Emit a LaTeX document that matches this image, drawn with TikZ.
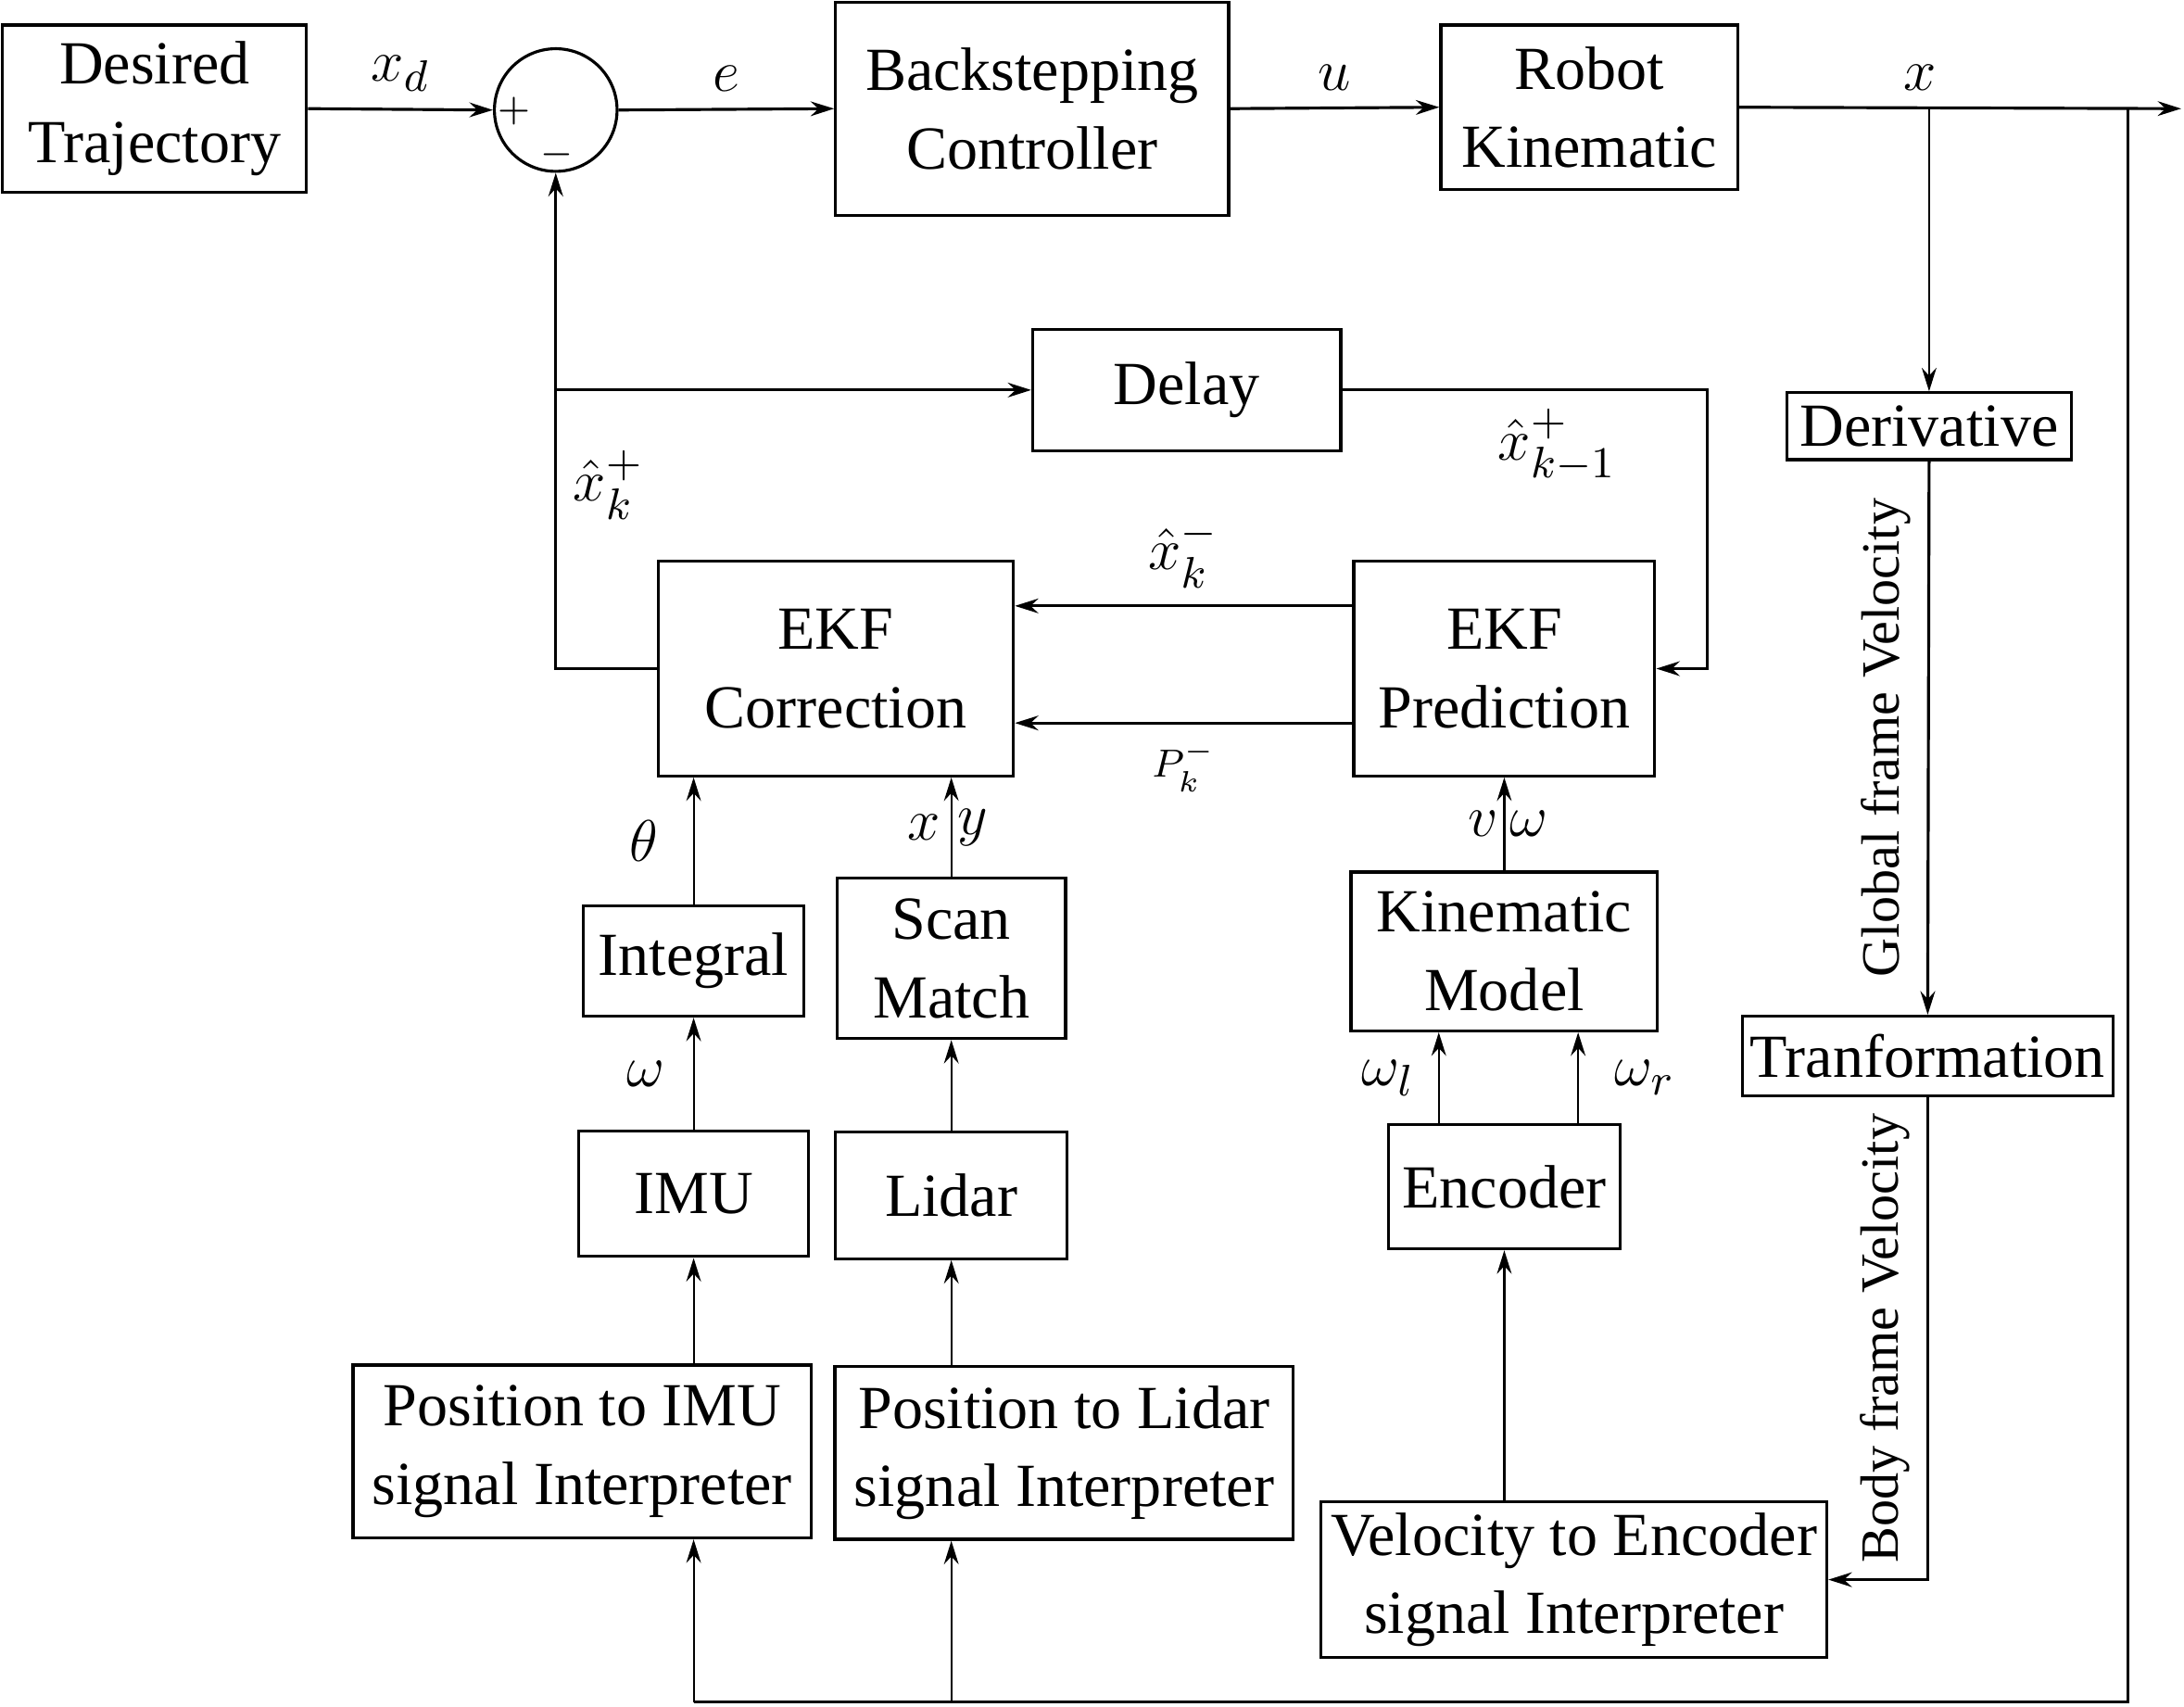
\documentclass[tikz,border=0pt]{standalone}
\usepackage[no-math]{fontspec}
\setmainfont{Liberation Serif}
\usetikzlibrary{shapes.geometric, arrows.meta}
\tikzstyle{block} = [rectangle, draw=black, semithick, inner sep=0pt, align=center]
\tikzstyle{arrow} = [semithick, -{Stealth[length=4.8pt, width=3pt, inset=1.6pt]}]
\tikzstyle{sarrow} = [thin, -{Stealth[length=4.8pt, width=3pt, inset=1.6pt]}]
\tikzstyle{vlabel} = [font=\fontsize{11}{13}\selectfont, rotate=90]
\usetikzlibrary{positioning}

\begin{document}
\begin{tikzpicture}[x=0.01cm, y=-0.01cm, font=\fontsize{12.5}{16}\selectfont]
	\useasboundingbox (0,0) rectangle (1568,1225);

	% forward path
	\node (des) [block, minimum width=2.18cm, minimum height=1.2cm] at (111,78) {Desired\\Trajectory};
	\node (sum) [circle, draw, semithick, minimum size=0.88cm, inner sep=0pt] at (399,79) {};
	\node (plus) [font=\footnotesize] at (369,80) {$+$};
	\node (minus) [font=\footnotesize] at (400,111) {$-$};
	\node (bsc) [block, minimum width=2.82cm, minimum height=1.53cm] at (741,78) {Backstepping\\Controller};
	\node (rob) [block, minimum width=2.13cm, minimum height=1.18cm] at (1141,77) {Robot\\Kinematic};
	\coordinate (xend) at (1566,78);
	\coordinate (xb1) at (1385,78);
	\coordinate (xb2) at (1528,78);
	\coordinate (fbr) at (1528,1222);

	% estimator
	\node (delay) [block, minimum width=2.21cm, minimum height=0.87cm] at (852,280) {Delay};
	\coordinate (dr) at (1226,280);
	\node (corr) [block, minimum width=2.55cm, minimum height=1.54cm] at (600,480) {EKF\\Correction};
	\node (pred) [block, minimum width=2.16cm, minimum height=1.54cm] at (1080,480) {EKF\\Prediction};
	\node (xkp) at (437,348) {$\hat{x}_k^{+}$};
	\node (xkm1) at (1118,320) {$\hat{x}_{k-1}^{+}$};

	% sensors
	\node (int) [block, minimum width=1.58cm, minimum height=0.79cm] at (498,690) {Integral};
	\node (scan) [block, minimum width=1.64cm, minimum height=1.15cm] at (683,688) {Scan\\Match};
	\node (kin) [block, minimum width=2.2cm, minimum height=1.14cm] at (1080,683) {Kinematic\\Model};
	\node (imu) [block, minimum width=1.65cm, minimum height=0.9cm] at (498,857) {IMU};
	\node (lidar) [block, minimum width=1.66cm, minimum height=0.91cm] at (683,858) {Lidar};
	\node (enc) [block, minimum width=1.66cm, minimum height=0.89cm] at (1080,852) {Encoder};
	\node (pimu) [block, minimum width=3.29cm, minimum height=1.24cm] at (418,1042) {Position to IMU\\signal Interpreter};
	\node (plidar) [block, minimum width=3.29cm, minimum height=1.24cm] at (764,1043) {Position to Lidar\\signal Interpreter};
	\node (venc) [block, minimum width=3.63cm, minimum height=1.12cm] at (1130,1134) {Velocity to Encoder\\signal Interpreter};
	\node (deriv) [block, minimum width=2.04cm, minimum height=0.48cm] at (1385,306) {Derivative};
	\node (trans) [block, minimum width=2.66cm, minimum height=0.57cm] at (1384,758) {Tranformation};

	\draw [arrow] (des.east) -- node[above] {$x_d$} (sum.west);
	\draw [arrow] (sum.east) -- node[above] {$e$} (bsc.west);
	\draw [arrow] (bsc.east) -- node[above] {$u$} (rob.west);
	\draw [arrow] (rob.east) -- node[pos=0.41, above] {$x$} (xend);
	\draw [sarrow] (xb1) -- (deriv.north);
	\draw [arrow] (deriv.south) -- node[midway, above, vlabel] {Global frame Velocity} (trans.north);
	\draw [arrow] (trans.south) |- node[pos=0.25, above, vlabel] {Body frame Velocity} (venc.east);
	\draw [semithick] (xb2) -- (fbr) -- (imu |- fbr);
	\draw [sarrow] (imu |- fbr) -- (imu |- pimu.south);
	\draw [sarrow] (lidar |- fbr) -- (lidar |- plidar.south);

	\draw [arrow] (corr.west) -| (sum.south);
	\draw [arrow] (sum.south |- delay.west) -- (delay.west);
	\draw [arrow] (delay.east) -- (dr) |- (pred.east);
	\draw [arrow] ([yshift=0.45cm]pred.west) -- node[above] {$\hat{x}_k^{-}$} ([yshift=0.45cm]corr.east);
	\draw [arrow] ([yshift=-0.39cm]pred.west) -- node[below, font=\footnotesize] {$P_k^{-}$} ([yshift=-0.39cm]corr.east);

	\draw [sarrow] (imu |- pimu.north) -- (imu.south);
	\draw [sarrow] (lidar |- plidar.north) -- (lidar.south);
	\draw [sarrow] (imu.north) -- node[left=0.08cm] {$\omega$} (int.south);
	\draw [sarrow] (lidar.north) -- (scan.south);
	\draw [sarrow] (int.north) -- node[left=0.13cm] {$\theta$} (int.north |- corr.south);
	\draw [sarrow] (scan.north) -- node[left, inner sep=2pt] {$x$} node[right, inner sep=1pt] {$y$} (scan.north |- corr.south);
	\draw [sarrow] (enc |- venc.north) -- (enc.south);
	\draw [sarrow] ([xshift=-0.47cm]enc.north) -- node[left=0.05cm] {$\omega_l$} ([xshift=-0.47cm]enc.north |- kin.south);
	\draw [sarrow] ([xshift=0.53cm]enc.north) -- node[right=0.14cm] {$\omega_r$} ([xshift=0.53cm]enc.north |- kin.south);
	\draw [sarrow] (kin.north) -- node[left, inner sep=1pt] {$v$} node[right, inner sep=1pt] {$\omega$} (pred.south);
\end{tikzpicture}
\end{document}
